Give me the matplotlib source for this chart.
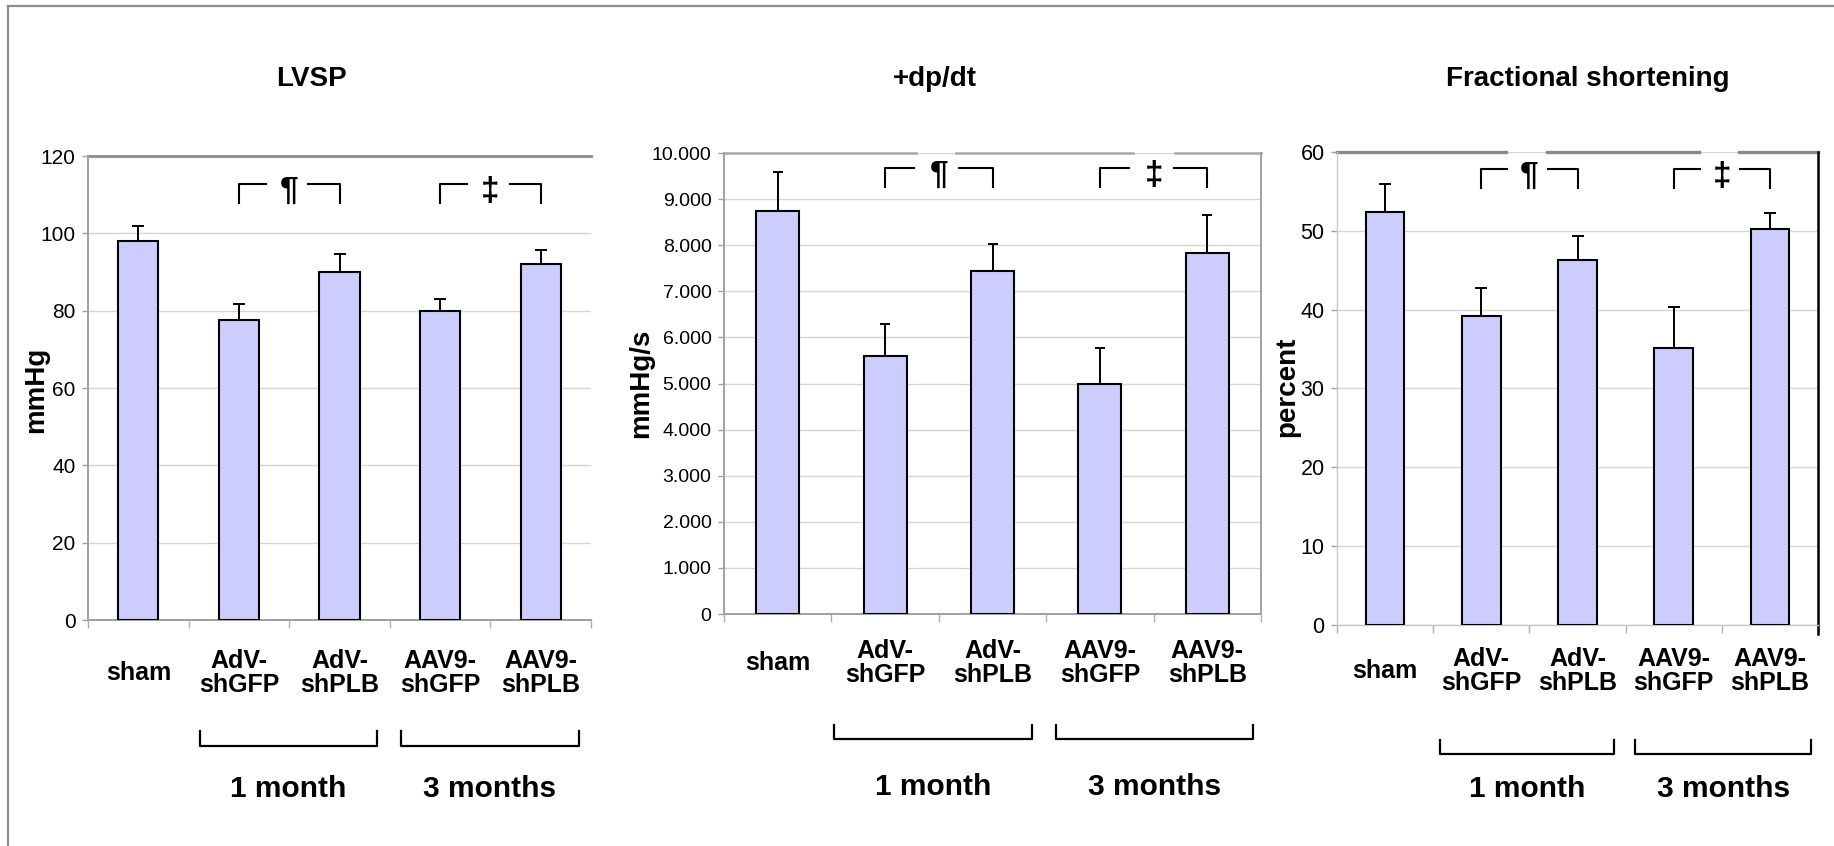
import matplotlib
matplotlib.use('Agg')
import matplotlib.pyplot as plt
import matplotlib.transforms as mtransforms
from matplotlib import font_manager
from matplotlib.ticker import FuncFormatter

# data
categories = ['sham', 'AdV-\nshGFP', 'AdV-\nshPLB', 'AAV9-\nshGFP', 'AAV9-\nshPLB']
lvsp = [98.0, 77.5, 90.0, 80.0, 92.0]
lvsp_err = [3.8, 4.3, 4.7, 3.1, 3.6]
dpdt = [8740, 5590, 7450, 4990, 7830]
dpdt_err = [840, 700, 570, 770, 830]
fs = [52.4, 39.2, 46.3, 35.2, 50.2]
fs_err = [3.5, 3.5, 3.0, 5.1, 2.0]

titles = ['LVSP', '+dp/dt', 'Fractional shortening']
ylabels = ['mmHg', 'mmHg/s', 'percent']
groups = ['1 month', '3 months']
sig_marks = ['\u00b6', '\u2021']

plt.rcParams['font.family'] = ['Liberation Sans', 'DejaVu Sans']


def narrow_font():
    try:
        path = font_manager.findfont('Liberation Sans Narrow', fallback_to_default=False)
        if 'Narrow' in path:
            return 'Liberation Sans Narrow'
    except Exception:
        pass
    return None


narrow = narrow_font()

BAR = '#CCCCFF'
W, H = 1834, 846


def fx(px):
    return px / W


def fy(py):
    return 1 - py / H


fig = plt.figure(figsize=(W / 100, H / 100), dpi=100)

# outer frame (top and left only visible)
fig.add_artist(plt.Line2D([fx(8), 1], [fy(6), fy(6)], color='#8c8c8c', lw=1.6))
fig.add_artist(plt.Line2D([fx(8), fx(8)], [fy(6), 0], color='#8c8c8c', lw=1.6))

panels = [
    dict(vals=lvsp, err=lvsp_err, ylim=120, step=20, box=(88, 156, 591, 620),
         tick_font=narrow or 'Liberation Sans', tick_size=17 if narrow else 15,
         cat_pad=38, title_x=312, ylab=(36, 390), cap=4.5,
         sig=(0.94, 0.899), grp_x=[(0.61, 2.37), (2.61, 4.38)], grp_y=(731, 746, 789)),
    dict(vals=dpdt, err=dpdt_err, ylim=10000, step=1000, box=(724, 153, 1261, 614),
         tick_font='Liberation Sans', tick_size=14, cat_pad=35, title_x=935, ylab=(641, 383),
         cap=3.5, sig=(0.9675, 0.927), grp_x=[(0.52, 2.37), (2.59, 4.43)],
         grp_y=(725, 739, 787)),
    dict(vals=fs, err=fs_err, ylim=60, step=10, box=(1337, 152, 1818, 625),
         tick_font='Liberation Sans', tick_size=15.5, cat_pad=33, title_x=1588, ylab=(1287, 387),
         cap=4.5, sig=(0.965, 0.924), grp_x=[(0.57, 2.38), (2.60, 4.43)],
         grp_y=(740, 754, 789)),
]

x = list(range(len(categories)))

for i, p in enumerate(panels):
    l, t, r, b = p['box']
    ax = fig.add_axes([fx(l), fy(b), fx(r - l), (b - t) / H])
    ax.set_xlim(-0.5, len(categories) - 0.5)
    ax.set_ylim(0, p['ylim'])

    ax.bar(x, p['vals'], width=0.4, color=BAR, edgecolor='black', linewidth=1.5, zorder=3)
    ax.errorbar(x, p['vals'], yerr=[[0] * len(x), p['err']], fmt='none', ecolor='black',
                elinewidth=1.4, capsize=p['cap'], capthick=1.4, zorder=2)

    yt = list(range(0, p['ylim'] + 1, p['step']))
    ax.set_yticks(yt)
    ax.set_axisbelow(True)
    ax.grid(axis='y', color='#d6d6d6', lw=1.0, zorder=0)
    if i == 1:
        ax.yaxis.set_major_formatter(FuncFormatter(lambda v, pos: f'{int(v):,}'.replace(',', '.')))
    ax.tick_params(axis='y', length=4, width=1, color='#a0a0a0', pad=5,
                   labelsize=p['tick_size'])
    for lab in ax.get_yticklabels():
        lab.set_fontfamily(p['tick_font'])

    # category labels
    ax.set_xticks(x, categories)
    ax.tick_params(axis='x', which='major', length=0, pad=p['cat_pad'])
    for lab in ax.get_xticklabels():
        lab.set_fontsize(18)
        lab.set_fontweight('bold')
        lab.set_va('center')
        lab.set_linespacing(1.0)
    ax.set_xticks([v - 0.5 for v in range(len(categories) + 1)], minor=True)
    ax.tick_params(axis='x', which='minor', length=6, width=1, color='#b0b0b0', direction='out')

    # spines
    for s in ax.spines.values():
        s.set_color('#a0a0a0')
        s.set_linewidth(1.4)
    ax.spines['top'].set_visible(False)
    trans_top = mtransforms.blended_transform_factory(ax.transData, ax.transAxes)
    if i == 0:
        ax.spines['right'].set_visible(False)
        ax.plot([-0.5, 4.5], [1, 1], color='#959595', lw=2.2, transform=trans_top, clip_on=False)
    elif i == 1:
        segs = [(-0.5, 1.29), (1.66, 3.31), (3.70, 4.5)]
        for a, c in segs:
            ax.plot([a, c], [1, 1], color='#a8a8a8', lw=1.8, transform=trans_top, clip_on=False)
    else:
        ax.spines['left'].set_color('#c8c8c8')
        ax.spines['left'].set_linewidth(1.0)
        ax.spines['bottom'].set_color('#c8c8c8')
        ax.spines['bottom'].set_linewidth(1.0)
        ax.spines['right'].set_color('black')
        ax.spines['right'].set_linewidth(1.8)
        ax.spines['right'].set_bounds(-0.02 * p['ylim'], p['ylim'])
        segs = [(-0.5, 1.26), (1.68, 3.26), (3.68, 4.5)]
        for a, c in segs:
            ax.plot([a, c], [1, 1], color='#8a8a8a', lw=2.4, transform=trans_top, clip_on=False)

    # significance brackets
    top, bot = p['sig']
    for k, mark in zip([1, 3], sig_marks):
        ax.plot([k, k, k + 0.27], [bot, top, top], color='black', lw=1.5,
                transform=trans_top, clip_on=False)
        ax.plot([k + 1 - 0.31, k + 1, k + 1], [top, top, bot], color='black', lw=1.5,
                transform=trans_top, clip_on=False)
        ax.text(k + 0.5, (top + bot) / 2 + 0.004, mark, transform=trans_top, ha='center',
                va='center', fontsize=24, fontweight='bold')

    # group brackets below the axis
    trans_fig = mtransforms.blended_transform_factory(ax.transData, fig.transFigure)
    gt, gb, gtext = p['grp_y']
    for (a, c), name in zip(p['grp_x'], groups):
        ax.plot([a, a, c, c], [fy(gt), fy(gb), fy(gb), fy(gt)], color='black', lw=1.6,
                transform=trans_fig, clip_on=False)
        ax.text((a + c) / 2, fy(gtext), name, transform=trans_fig, ha='center', va='center',
                fontsize=21.5, fontweight='bold')

    fig.text(fx(p['title_x']), fy(79), titles[i], ha='center', va='center',
             fontsize=20, fontweight='bold')
    fig.text(fx(p['ylab'][0]), fy(p['ylab'][1]), ylabels[i], ha='center', va='center',
             rotation=90, fontsize=20, fontweight='bold')

fig.savefig('out.png', dpi=100)
